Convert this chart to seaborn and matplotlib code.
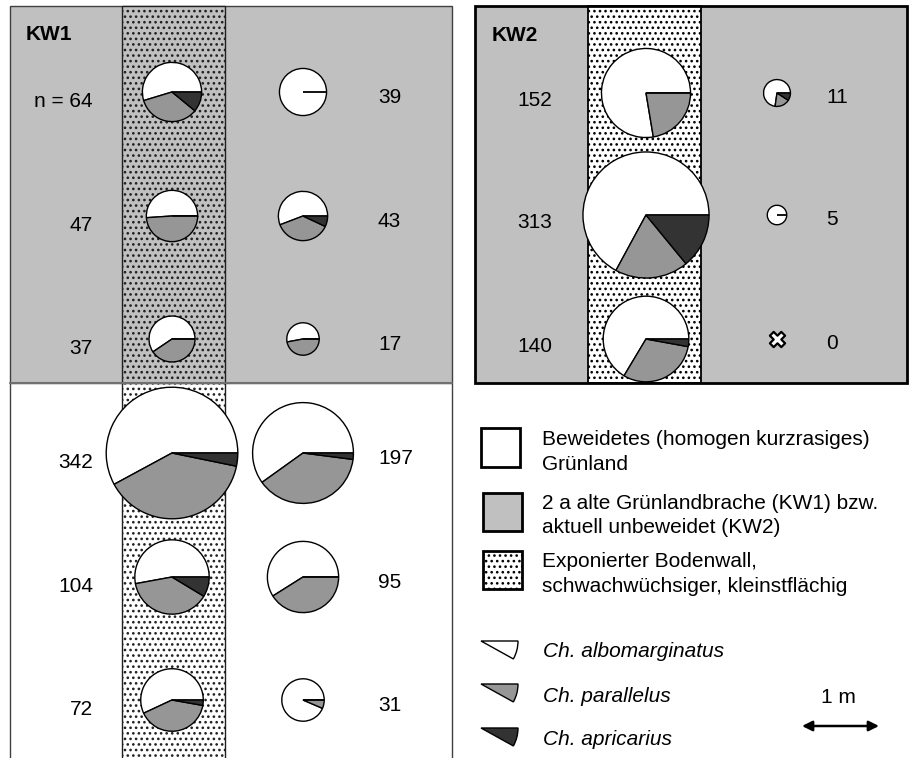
import numpy as np
import pandas as pd
import matplotlib
matplotlib.use("Agg")
import matplotlib.pyplot as plt
from matplotlib.patches import Rectangle, Wedge
import seaborn as sns

# ---------------- data (counts per species) ----------------
# KW1: rows from top to bottom (3 in fallow, 3 in grazed grassland)
kw1_left_labels = ["n = 64", "47", "37", "342", "104", "72"]
kw1_left_alb = [35, 24, 22, 198, 55, 41]
kw1_left_par = [22, 23, 15, 133, 40, 29]
kw1_left_apr = [7, 0, 0, 11, 9, 2]

kw1_right_labels = ["39", "43", "17", "197", "95", "31"]
kw1_right_alb = [39, 24, 9, 118, 56, 29]
kw1_right_par = [0, 16, 8, 75, 39, 2]
kw1_right_apr = [0, 3, 0, 4, 0, 0]

# KW2
kw2_left_labels = ["152", "313", "140"]
kw2_left_alb = [118, 210, 93]
kw2_left_par = [34, 59, 43]
kw2_left_apr = [0, 44, 4]

kw2_right_labels = ["11", "5", "0"]
kw2_right_alb = [8, 5, 0]
kw2_right_par = [2, 0, 0]
kw2_right_apr = [1, 0, 0]

species = ["Ch. albomarginatus", "Ch. parallelus", "Ch. apricarius"]
habitat_labels = [["Beweidetes (homogen kurzrasiges)", "Grünland"],
                  ["2 a alte Grünlandbrache (KW1) bzw.", "aktuell unbeweidet (KW2)"],
                  ["Exponierter Bodenwall,", "schwachwüchsiger, kleinstflächig"]]

# ---------------- style ----------------
sns.set_theme(style="white")
plt.rcParams["font.family"] = ["Liberation Sans", "DejaVu Sans"]
plt.rcParams["text.color"] = "black"
plt.rcParams["hatch.linewidth"] = 1.1
plt.rcParams["hatch.color"] = "black"

pie_colors = ["#ffffff", "#969696", "#333333"]
bg_gray = "#c0c0c0"
FS = 15
HATCH = "..."

W, H = 912, 758
fig = plt.figure(figsize=(W / 100, H / 100), dpi=100)
ax = fig.add_axes([0, 0, 1, 1])
ax.set_autoscale_on(False)
ax.set_xlim(0, W)
ax.set_ylim(0, H)


def Y(py):
    return H - py


def rect(x0, y0, x1, y1, **kw):
    ax.add_patch(Rectangle((x0, Y(y1)), x1 - x0, y1 - y0, **kw))


# ---------------- KW1 panel ----------------
rect(10, 6, 452, 383, facecolor=bg_gray, edgecolor="#404040", lw=1, zorder=0)
rect(122, 6, 225, 383, facecolor=bg_gray, edgecolor="#202020", lw=1, hatch=HATCH, zorder=0.5)
rect(122, 383, 225, 770, facecolor="white", edgecolor="#202020", lw=1, hatch=HATCH, zorder=0.5)
ax.plot([10, 10], [Y(383), Y(760)], color="#404040", lw=1, zorder=0.6)
ax.plot([452, 452], [Y(383), Y(760)], color="#404040", lw=1, zorder=0.6)
ax.plot([10, 452], [Y(383), Y(383)], color="#707070", lw=1.5, zorder=0.6)

# ---------------- KW2 panel ----------------
rect(475, 6, 907, 383, facecolor=bg_gray, edgecolor="none", zorder=0)
rect(588, 6, 701, 383, facecolor="white", edgecolor="black", lw=1.3, hatch=HATCH, zorder=0.5)
rect(475, 6, 907, 383, facecolor="none", edgecolor="black", lw=2, zorder=0.7)

ax.text(26, Y(40), "KW1", fontsize=15, fontweight="bold", ha="left", va="baseline")
ax.text(492, Y(41), "KW2", fontsize=15, fontweight="bold", ha="left", va="baseline")


def radius(n):
    return 3.45 * np.sqrt(n) + 2


def draw_pie(cx, cy, vals):
    n = sum(vals)
    if n == 0:
        return
    ax.pie(vals, colors=pie_colors, center=(cx, Y(cy)), radius=radius(n),
           startangle=0, counterclock=True, frame=True,
           wedgeprops=dict(edgecolor="black", linewidth=1, zorder=3))


kw1_rows = [92, 216, 339, 453, 577, 700]
kw2_rows = [93, 215, 339]

for i, cy in enumerate(kw1_rows):
    draw_pie(172, cy, [kw1_left_alb[i], kw1_left_par[i], kw1_left_apr[i]])
    draw_pie(303, cy, [kw1_right_alb[i], kw1_right_par[i], kw1_right_apr[i]])
    ax.text(93, Y(cy + 15), kw1_left_labels[i], fontsize=FS, ha="right", va="baseline")
    ax.text(378, Y(cy + 11), kw1_right_labels[i], fontsize=FS, ha="left", va="baseline")

zero_pts = []
for i, cy in enumerate(kw2_rows):
    vals = [kw2_left_alb[i], kw2_left_par[i], kw2_left_apr[i]]
    draw_pie(646, cy, vals)
    rvals = [kw2_right_alb[i], kw2_right_par[i], kw2_right_apr[i]]
    if sum(rvals) == 0:
        zero_pts.append((777, Y(cy)))
    else:
        draw_pie(777, cy, rvals)
    ax.text(552, Y(cy + 13), kw2_left_labels[i], fontsize=FS, ha="right", va="baseline")
    ax.text(826, Y(cy + 10), kw2_right_labels[i], fontsize=FS, ha="left", va="baseline")

if zero_pts:
    zdf = pd.DataFrame(zero_pts, columns=["x", "y"])
    sns.scatterplot(data=zdf, x="x", y="y", marker="X", s=120, color="white",
                    edgecolor="black", linewidth=1.6, ax=ax, zorder=4, legend=False)

# ---------------- legend ----------------
rect(481, 428, 520, 467, facecolor="white", edgecolor="black", lw=2, zorder=1)
rect(483, 493, 522, 531, facecolor=bg_gray, edgecolor="black", lw=2, zorder=1)
rect(483, 551, 522, 589, facecolor="white", edgecolor="black", lw=2, hatch=HATCH, zorder=1)

hab_base = [(445, 470), (509, 533), (567, 592)]
for (l1, l2), (b1, b2) in zip(habitat_labels, hab_base):
    ax.text(542, Y(b1), l1, fontsize=FS, ha="left", va="baseline")
    ax.text(542, Y(b2), l2, fontsize=FS, ha="left", va="baseline")

sp_apex = [641, 684, 728]
sp_base = [657, 702, 745]
for name, col, ay, by in zip(species, pie_colors, sp_apex, sp_base):
    ax.add_patch(Wedge((481, Y(ay)), 37, -29, 0, facecolor=col,
                       edgecolor="black", lw=1, zorder=3))
    ax.text(543, Y(by), name, fontsize=FS, style="italic", ha="left", va="baseline")

ax.text(838, Y(703), "1 m", fontsize=FS, ha="center", va="baseline")
ax.annotate("", xy=(879, Y(726)), xytext=(802, Y(726)),
            arrowprops=dict(arrowstyle="<|-|>", color="black", lw=1.8,
                            mutation_scale=15, shrinkA=0, shrinkB=0))

ax.set_xlim(0, W)
ax.set_ylim(0, H)
ax.axis("off")
fig.savefig("out.png", dpi=100)
